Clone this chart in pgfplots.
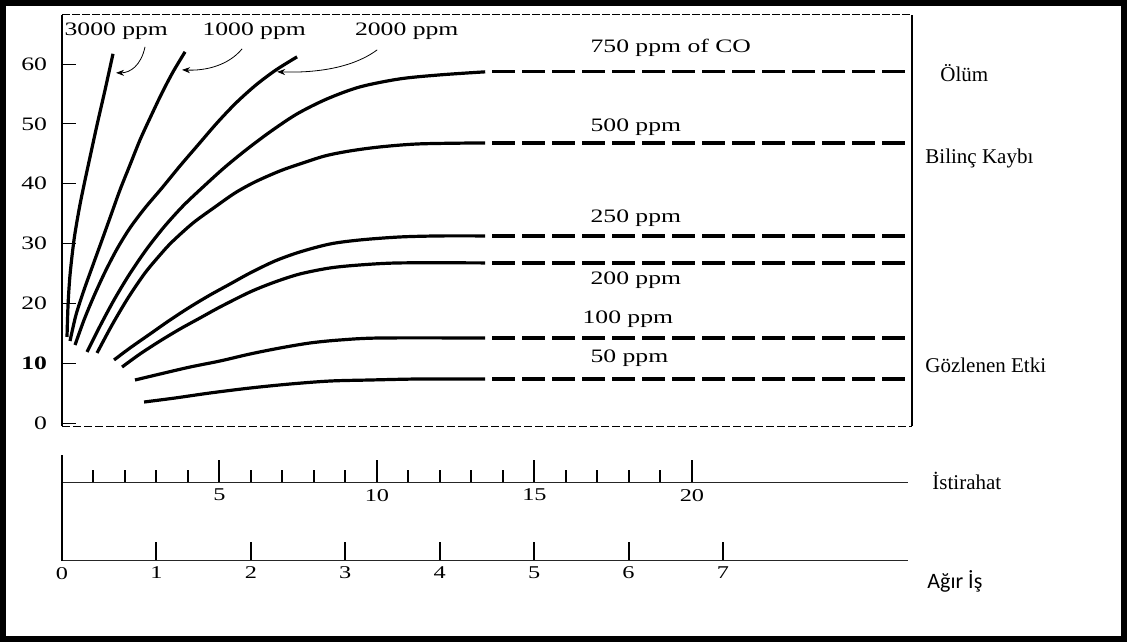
\documentclass[border=0pt]{standalone}
\usepackage{fontspec}
\setmainfont{Liberation Serif}
\newfontfamily\scanfont[FakeStretch=1.35]{Liberation Serif}
\newfontfamily\calfont{Carlito}
\usepackage{pgfplots}
\pgfplotsset{compat=1.18}
\usetikzlibrary{arrows.meta}

\pgfplotsset{
  curve/.style={line width=1.6pt, black, smooth, tension=0.5, no markers},
  plateau/.style={line width=1.6pt, black, no markers, dash pattern=on 11.5pt off 3.5pt, dash phase=11.5pt},
}

\begin{document}
\begin{tikzpicture}
\path[use as bounding box] (0pt,0pt) rectangle (563.5pt,-321pt);
\draw[line width=3pt] (1.5pt,-1.5pt) rectangle (562pt,-319.5pt);

% ---------------- main axis ----------------
\begin{axis}[
  at={(31pt,-213pt)}, anchor=south west, scale only axis,
  width=425pt, height=205.5pt,
  xmin=0, xmax=9, ymin=-0.5, ymax=68.2,
  hide x axis,
  axis y line*=left,
  y axis line style={line width=0.7pt, -},
  ytick={0,10,20,30,40,50,60},
  yticklabels={0,\textbf{10},20,30,40,50,60},
  tick align=inside,
  major tick length=7pt,
  ytick style={line width=0.5pt, black},
  yticklabel style={font=\scanfont\fontsize{9.5}{10}\selectfont, xshift=-4pt},
  /pgf/number format/assume math mode=true,
  clip=false,
]
% 3000 ppm
\addplot[curve] coordinates {(0.053,14.38) (0.064,19.73) (0.085,24.75) (0.127,30.60) (0.180,35.62) (0.233,39.80) (0.297,44.48) (0.371,49.83) (0.456,55.69) (0.540,61.71)};
% 1000 ppm
\addplot[curve] coordinates {(0.085,13.71) (0.148,18.06) (0.233,22.24) (0.328,26.42) (0.424,30.60) (0.519,34.78) (0.614,38.96) (0.720,43.14) (0.826,47.32) (0.943,51.34) (1.059,55.18) (1.176,58.70) (1.303,62.04)};
% 2000 ppm
\addplot[curve] coordinates {(0.138,13.04) (0.233,17.22) (0.339,21.24) (0.456,25.25) (0.583,29.10) (0.720,32.61) (0.879,35.95) (1.059,39.30) (1.250,42.98) (1.441,46.49) (1.642,50.17) (1.843,53.51) (2.055,56.52) (2.267,59.03) (2.489,61.20)};
% 750 ppm
\addplot[curve] coordinates {(0.265,11.87) (0.403,16.22) (0.551,20.57) (0.710,24.75) (0.890,28.93) (1.081,32.78) (1.282,36.29) (1.494,39.46) (1.716,42.64) (1.949,45.65) (2.203,48.66) (2.489,51.67) (2.807,54.18) (3.157,56.19) (3.581,57.53) (4.004,58.19) (4.481,58.70)};
\addplot[plateau] coordinates {(4.481,58.70) (9.0,58.70)};
% 500 ppm
\addplot[curve] coordinates {(0.371,11.71) (0.530,16.39) (0.699,20.90) (0.879,25.08) (1.038,28.09) (1.165,30.27) (1.388,33.44) (1.621,36.12) (1.833,38.46) (2.044,40.30) (2.309,42.14) (2.521,43.31) (2.786,44.65) (3.051,45.48) (3.369,46.15) (3.792,46.66) (4.481,46.82)};
\addplot[plateau] coordinates {(4.481,46.82) (9.0,46.82)};
% 250 ppm
\addplot[curve] coordinates {(0.551,10.54) (0.720,12.54) (0.932,14.88) (1.144,17.22) (1.356,19.40) (1.568,21.40) (1.780,23.24) (1.992,25.08) (2.256,27.09) (2.521,28.60) (2.839,29.93) (3.157,30.60) (3.581,31.10) (4.004,31.27) (4.481,31.27)};
\addplot[plateau] coordinates {(4.481,31.27) (9.0,31.27)};
% 200 ppm
\addplot[curve] coordinates {(0.636,9.36) (0.826,11.54) (1.038,13.71) (1.250,15.72) (1.462,17.56) (1.674,19.40) (1.992,21.91) (2.256,23.58) (2.521,24.92) (2.839,25.92) (3.157,26.42) (3.581,26.76) (4.481,26.76)};
\addplot[plateau] coordinates {(4.481,26.76) (9.0,26.76)};
% 100 ppm
\addplot[curve] coordinates {(0.773,7.19) (1.038,8.19) (1.356,9.36) (1.674,10.37) (1.992,11.54) (2.309,12.54) (2.627,13.38) (2.945,13.88) (3.369,14.21) (4.481,14.21)};
\addplot[plateau] coordinates {(4.481,14.21) (9.0,14.21)};
% 50 ppm
\addplot[curve] coordinates {(0.869,3.51) (1.197,4.18) (1.568,5.02) (1.992,5.85) (2.415,6.52) (2.839,7.02) (3.263,7.19) (3.792,7.36) (4.481,7.36)};
\addplot[plateau] coordinates {(4.481,7.36) (9.0,7.36)};

% frame
\draw[line width=0.8pt] (rel axis cs:1,0) -- (rel axis cs:1,1);
\draw[line width=0.5pt, dash pattern=on 4pt off 1pt] (rel axis cs:0,1) -- (rel axis cs:1,1);
\draw[line width=0.5pt, dash pattern=on 4pt off 1.5pt] (rel axis cs:0,0) -- (rel axis cs:1,0);

% labels
\tikzset{lab/.style={font=\scanfont\fontsize{9.5}{10}\selectfont, inner sep=0pt}}
\node[lab] at (axis cs:0.575,65.55) {3000 ppm};
\node[lab] at (axis cs:2.035,65.55) {1000 ppm};
\node[lab] at (axis cs:3.650,65.55) {2000 ppm};
\node[lab, anchor=west] at (axis cs:5.593,62.71) {750 ppm of CO};
\node[lab, anchor=west] at (axis cs:5.593,49.50) {500 ppm};
\node[lab, anchor=west] at (axis cs:5.593,34.28) {250 ppm};
\node[lab, anchor=west] at (axis cs:5.593,23.91) {200 ppm};
\node[lab, anchor=west] at (axis cs:5.508,17.39) {100 ppm};
\node[lab, anchor=west] at (axis cs:5.593,10.87) {50 ppm};

% arrows
\draw[line width=0.4pt, -{Stealth[length=4pt,width=3pt]}] (axis cs:0.879,62.88) .. controls (axis cs:0.837,59.70) and (axis cs:0.720,58.53) .. (axis cs:0.572,58.53);
\draw[line width=0.4pt, -{Stealth[length=4pt,width=3pt]}] (axis cs:1.907,62.54) .. controls (axis cs:1.758,59.70) and (axis cs:1.515,58.86) .. (axis cs:1.271,59.03);
\draw[line width=0.4pt, -{Stealth[length=4pt,width=3pt]}] (axis cs:3.337,62.37) .. controls (axis cs:3.051,59.03) and (axis cs:2.627,58.53) .. (axis cs:2.278,58.70);
\end{axis}

% ---------------- rest time scale ----------------
\begin{axis}[
  at={(31pt,-241pt)}, anchor=south west, scale only axis,
  width=423pt, height=20pt,
  xmin=0, xmax=26.86, ymin=0, ymax=1,
  hide y axis, axis x line*=bottom,
  x axis line style={line width=0.5pt, black!85, -},
  xtick={5,10,15,20},
  minor xtick={1,2,3,4,6,7,8,9,11,12,13,14,16,17,18,19},
  tick align=inside,
  major tick length=11pt, minor tick length=6pt,
  every tick/.style={line width=1pt, black},
  xticklabel style={font=\scanfont\fontsize{9}{10}\selectfont},
  /pgf/number format/assume math mode=true,
]
\addplot[draw=none] coordinates {(0,0) (26.86,0)};
\end{axis}

% ---------------- heavy work scale ----------------
\begin{axis}[
  at={(31pt,-280pt)}, anchor=south west, scale only axis,
  width=423pt, height=20pt,
  xmin=0, xmax=8.96, ymin=0, ymax=1,
  hide y axis, axis x line*=bottom,
  x axis line style={line width=0.5pt, black!85, -},
  xtick={0,1,2,3,4,5,6,7},
  tick align=inside,
  major tick length=9pt,
  every tick/.style={line width=1pt, black},
  xticklabel style={font=\scanfont\fontsize{9}{10}\selectfont},
  /pgf/number format/assume math mode=true,
]
\addplot[draw=none] coordinates {(0,0) (8.96,0)};
\end{axis}

\begin{scope}[x=0.5pt, y=-0.5pt]
\draw[line width=0.8pt] (62,455) -- (62,561);
\node[anchor=west, inner sep=0pt, font=\fontsize{10.5}{12}\selectfont] at (940,73) {Ölüm};
\node[anchor=west, inner sep=0pt, font=\fontsize{10.5}{12}\selectfont] at (925,158) {Bilinç Kaybı};
\node[anchor=west, inner sep=0pt, font=\fontsize{10.5}{12}\selectfont] at (925,365) {Gözlenen Etki};
\node[anchor=west, inner sep=0pt, font=\fontsize{10.5}{12}\selectfont] at (932,481) {İstirahat};
\node[anchor=west, inner sep=0pt, font=\calfont\fontsize{11}{12}\selectfont] at (927,581) {Ağır İş};
\end{scope}
\end{tikzpicture}
\end{document}
